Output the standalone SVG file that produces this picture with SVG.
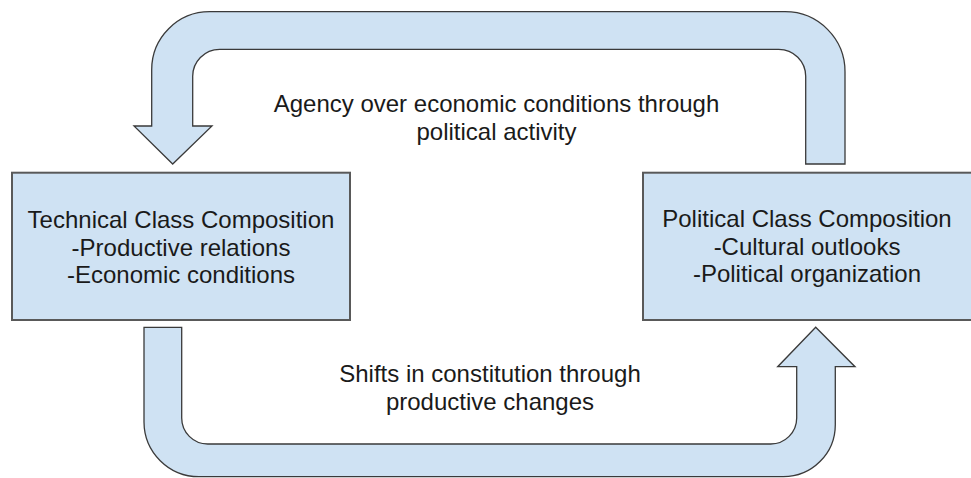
<svg xmlns="http://www.w3.org/2000/svg" width="971" height="478" viewBox="0 0 971 478">
<style>
.box{fill:#cfe2f3;stroke:#595959;stroke-width:2}
.arr{fill:#cfe2f3;stroke:#3a3a3a;stroke-width:1.3;stroke-linejoin:miter}
text{font-family:"Liberation Sans",Arial,sans-serif;font-size:24px;fill:#1a1a1a;text-anchor:middle}
</style>
<rect width="971" height="478" fill="#ffffff"/>
<g id="connectors">
<path id="top-arrow" class="arr" d="M845,164 L845,72 A60,60 0 0 0 785,11.7 L210,11.7 A58,58 0 0 0 151.7,70 L151.7,126 L134,126 L172.7,164 L212,126 L192.7,126 L192.7,77 A27,27 0 0 1 219.7,49.3 L778.7,49.3 A27,27 0 0 1 805.7,76.3 L805.7,164 Z"/>
<path id="bottom-arrow" class="arr" d="M144,327.3 L144,422 A55,55 0 0 0 199,476.7 L783,476.7 A52,52 0 0 0 835.3,424.7 L835.3,366.7 L855,366.7 L815.7,327.3 L777.7,366.7 L796.7,366.7 L796.7,418 A26,26 0 0 1 770.7,444 L207.7,444 A26,26 0 0 1 181.7,418 L181.7,327.3 Z"/>
<text x="496.5" y="112">Agency over economic conditions through</text>
<text x="496.5" y="140">political activity</text>
<text x="490" y="382">Shifts in constitution through</text>
<text x="490" y="410">productive changes</text>
</g>
<g id="technical">
<rect class="box" x="12" y="172.7" width="338" height="147.3"/>
<text x="181" y="228">Technical Class Composition</text>
<text x="181" y="255.6">-Productive relations</text>
<text x="181" y="283.2">-Economic conditions</text>
</g>
<g id="political">
<rect class="box" x="643" y="172.7" width="340" height="147.3"/>
<text x="807" y="227">Political Class Composition</text>
<text x="807" y="254.6">-Cultural outlooks</text>
<text x="807" y="282.2">-Political organization</text>
</g>
</svg>
